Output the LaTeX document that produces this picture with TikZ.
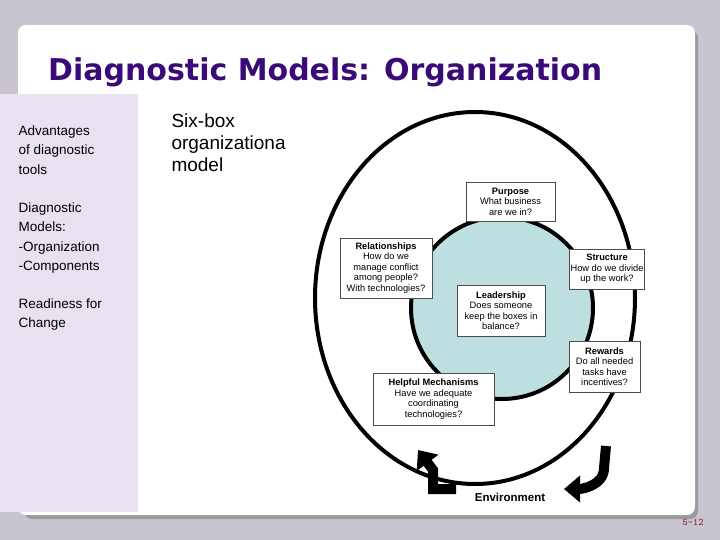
\documentclass[tikz,border=0pt]{standalone}
\usepackage{fontspec}
\setmainfont{Liberation Sans}
\newfontfamily\ttl{DejaVu Sans}
\usetikzlibrary{arrows.meta}
\definecolor{bg}{HTML}{C8C4D0}
\definecolor{lav}{HTML}{E8E2F0}
\definecolor{ttlc}{HTML}{3A0A78}
\definecolor{teal}{HTML}{BEDFE0}
\definecolor{pg}{HTML}{8B1030}
\tikzset{
 box/.style={draw=black!70,fill=white,line width=0.7pt,align=center,font=\fontsize{9.3}{10.5}\selectfont,inner sep=1pt},
 side/.style={anchor=north west,align=left,font=\fontsize{13.5}{19.5}\selectfont},
 big/.style={line width=10pt,-{Triangle[width=26pt,length=16pt]}}
}
\begin{document}
\begin{tikzpicture}[x=1pt,y=-1pt]
\useasboundingbox (0,0) rectangle (720,540);
\fill[bg] (0,0) rectangle (720,540);
\fill[black!40] (24,30) [rounded corners=8pt] rectangle (698,519);
\fill[white,rounded corners=8pt] (18,25) rectangle (695,515);
\fill[lav] (0,94) rectangle (138,512);
\node[anchor=west,text=ttlc,font=\ttl\bfseries\fontsize{30}{34}\selectfont,inner sep=0pt] (title) at (48,72) {Diagnostic Models: Organization};
\node[side] (t1) at (15,122) {Advantages\\of diagnostic\\tools};
\node[side] (t2) at (15,199) {Diagnostic\\Models:\\-Organization\\-Components};
\node[side] (t3) at (15,295) {Readiness for\\Change};
\node[anchor=north west,align=left,font=\fontsize{19}{22}\selectfont] (six) at (168,110) {Six-box\\organizationa\\model};
\draw[line width=4pt] (475,298) ellipse [x radius=160, y radius=186];
\draw[line width=4pt,fill=teal] (502,308) circle (91);
\node[box,minimum width=89,minimum height=39] (pur) at (510.5,201.5) {\textbf{Purpose}\\What business\\are we in?};
\node[box,minimum width=92,minimum height=60] (rel) at (386,268) {\textbf{Relationships}\\How do we\\manage conflict\\among people?\\With technologies?};
\node[box,minimum width=68,minimum height=40] (str) at (607,269) {\textbf{Structure}\\How do we divide\\up the work?};
\node[box,minimum width=88,minimum height=51] (lea) at (501,310.5) {\textbf{Leadership}\\Does someone\\keep the boxes in\\balance?};
\node[box,minimum width=71,minimum height=51] (rew) at (604.5,366.5) {\textbf{Rewards}\\Do all needed\\tasks have\\incentives?};
\node[box,minimum width=121,minimum height=52] (hel) at (433.5,399) {\textbf{Helpful Mechanisms}\\Have we adequate\\coordinating\\technologies?};
\node[font=\bfseries\fontsize{11.5}{13}\selectfont] (env) at (510,497) {Environment};
\coordinate (la) at (456,489); \coordinate (lb) at (433,489); \coordinate (lc) at (433,470); \coordinate (ld) at (418,450);
\draw[big,line join=miter] (la) -- (lb) -- (lc) -- (ld);
\coordinate (ra) at (606,446); \coordinate (rb) at (604,468); \coordinate (rc) at (564,489);
\draw[big] (ra) -- (rb) to[out=-90,in=0] (rc);
\node[text=pg,font=\ttfamily\fontsize{10}{11}\selectfont] (pn) at (693,522) {5-12};
\end{tikzpicture}
\end{document}
